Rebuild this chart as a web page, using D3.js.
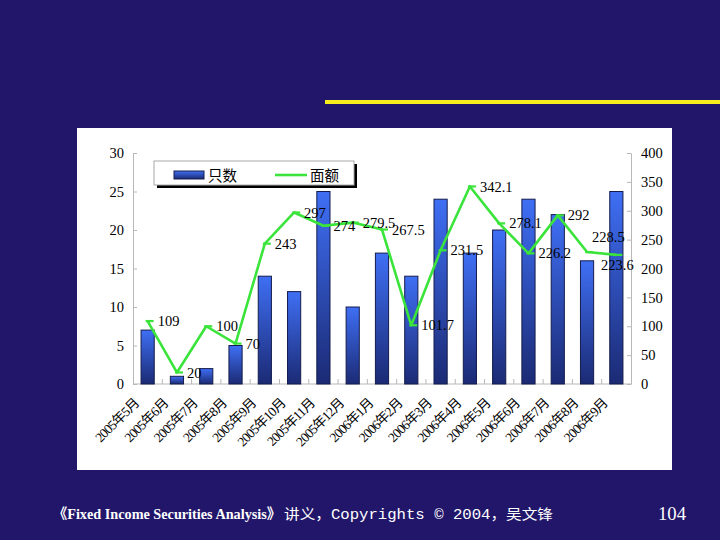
<!DOCTYPE html>
<html><head><meta charset="utf-8">
<script src="https://cdn.jsdelivr.net/npm/d3@7"></script>
<style>html,body{margin:0;padding:0;background:#22166a;} svg{display:block}</style>
</head><body>
<svg id="c" width="720" height="540"></svg>
<script>
const categories = ["2005年5月","2005年6月","2005年7月","2005年8月","2005年9月","2005年10月","2005年11月","2005年12月","2006年1月","2006年2月","2006年3月","2006年4月","2006年5月","2006年6月","2006年7月","2006年8月","2006年9月"];
const counts = [7,1,2,5,14,12,25,10,17,14,24,17,20,24,22,16,25];
const amounts = [109,20,100,70,243,297,274,279.5,267.5,101.7,231.5,342.1,278.1,226.2,292,228.5,223.6];
const leftTicks = [0,5,10,15,20,25,30];
const rightTicks = [0,50,100,150,200,250,300,350,400];
const seriesNames = ["只数","面额"];
// label placement keyword per point (default: right of point)
const labelPlacement = amounts.map((d,i)=> i===15 ? "aboveRight" : i===16 ? "below" : "right");

const svg = d3.select("#c");
const serif = "'Liberation Serif','Times New Roman','Noto Sans CJK SC',serif";

// background
svg.append("rect").attr("width",720).attr("height",540).attr("fill","#22166a");
// yellow rule
svg.append("rect").attr("x",325).attr("y",100).attr("width",395).attr("height",4).attr("fill","#f7ec1c");
// white panel
svg.append("rect").attr("x",77).attr("y",128).attr("width",595).attr("height",342).attr("fill","#ffffff");

const defs = svg.append("defs");
const g = defs.append("linearGradient").attr("id","barGrad").attr("x1",0).attr("y1",0).attr("x2",0).attr("y2",1);
g.append("stop").attr("offset","0%").attr("stop-color","#3f6ff4");
g.append("stop").attr("offset","100%").attr("stop-color","#1b2a74");

const x = d3.scaleBand().domain(categories).range([133,631]).padding(0);
const yL = d3.scaleLinear().domain([0,30]).range([384,153]);
const yR = d3.scaleLinear().domain([0,400]).range([384,153]);

const axisColor = "#b8b8b8";
// left axis
const la = svg.append("g").attr("transform","translate(133,0)")
  .call(d3.axisLeft(yL).tickValues(leftTicks).tickSizeInner(-4).tickSizeOuter(0).tickPadding(9));
la.select(".domain").attr("stroke",axisColor);
la.selectAll(".tick line").attr("stroke",axisColor);
la.selectAll(".tick text").attr("font-family",serif).attr("font-size","14.5px").attr("fill","#000");

// right axis
const ra = svg.append("g").attr("transform","translate(631,0)")
  .call(d3.axisRight(yR).tickValues(rightTicks).tickSizeInner(-4).tickSizeOuter(0).tickPadding(10));
ra.select(".domain").attr("stroke",axisColor);
ra.selectAll(".tick line").attr("stroke",axisColor);
ra.selectAll(".tick text").attr("font-family",serif).attr("font-size","14.5px").attr("fill","#000");

// bottom axis line + boundary ticks
svg.append("line").attr("x1",133).attr("x2",631).attr("y1",384).attr("y2",384).attr("stroke",axisColor);
svg.append("g").selectAll("line").data(categories.slice(1)).join("line")
  .attr("x1",d=>x(d)).attr("x2",d=>x(d)).attr("y1",384).attr("y2",379).attr("stroke",axisColor);

// bars
const bw = x.bandwidth()*0.45;
svg.append("g").selectAll("rect").data(counts).join("rect")
  .attr("x",(d,i)=>x(categories[i])+x.bandwidth()/2-bw/2)
  .attr("y",d=>yL(d))
  .attr("width",bw)
  .attr("height",d=>384-yL(d))
  .attr("fill","url(#barGrad)")
  .attr("stroke","#141c4c").attr("stroke-width",1);

// line
const cx = i => x(categories[i])+x.bandwidth()/2;
const green = "#3ae43a";
svg.append("path").datum(amounts)
  .attr("d",d3.line().x((d,i)=>cx(i)).y(d=>yR(d)))
  .attr("fill","none").attr("stroke",green).attr("stroke-width",2.6).attr("stroke-linejoin","round");
svg.append("g").selectAll("line").data(amounts).join("line")
  .attr("x1",(d,i)=>cx(i)-2).attr("x2",(d,i)=>cx(i)+6)
  .attr("y1",d=>yR(d)).attr("y2",d=>yR(d))
  .attr("stroke",green).attr("stroke-width",2.2);

// data labels
svg.append("g").selectAll("text").data(amounts).join("text")
  .attr("x",(d,i)=> labelPlacement[i]==="below" ? cx(i)+1 : labelPlacement[i]==="aboveRight" ? cx(i)+5 : cx(i)+10)
  .attr("y",(d,i)=> labelPlacement[i]==="below" ? yR(d)+10 : labelPlacement[i]==="aboveRight" ? yR(d)-15 : yR(d))
  .attr("dy","0.35em")
  .attr("text-anchor",(d,i)=> labelPlacement[i]==="below" ? "middle" : "start")
  .attr("font-family",serif).attr("font-size","14.5px").attr("fill","#000")
  .text(d=>String(d));

// x labels
svg.append("g").selectAll("text").data(categories).join("text")
  .attr("transform",d=>`translate(${x(d)+x.bandwidth()/2-8},${404}) rotate(-45)`)
  .attr("text-anchor","end")
  .attr("font-family",serif).attr("font-size","13.5px").attr("fill","#000")
  .attr("letter-spacing","-0.8px")
  .text(d=>d);

// legend
svg.append("rect").attr("x",157).attr("y",164).attr("width",200).attr("height",24).attr("fill","#000");
svg.append("rect").attr("x",154).attr("y",161).attr("width",200).attr("height",24).attr("fill","#fff").attr("stroke","#a8a8a8").attr("stroke-width",1);
svg.append("rect").attr("x",174).attr("y",171).attr("width",30).attr("height",8).attr("fill","url(#barGrad)").attr("stroke","#141c4c");
svg.append("text").attr("x",208).attr("y",175).attr("dy","0.38em").attr("font-family",serif).attr("font-size","14.5px").text(seriesNames[0]);
svg.append("line").attr("x1",275).attr("x2",307).attr("y1",175).attr("y2",175).attr("stroke",green).attr("stroke-width",2.6);
svg.append("text").attr("x",310).attr("y",175).attr("dy","0.38em").attr("font-family",serif).attr("font-size","14.5px").text(seriesNames[1]);

// footer
svg.append("text").attr("x",53).attr("y",519).attr("fill","#fff").attr("font-size","14.5px")
  .attr("font-family",serif).attr("font-weight","bold")
  .attr("textLength",228).attr("lengthAdjust","spacingAndGlyphs")
  .text("《Fixed Income Securities Analysis》");
svg.append("text").attr("x",284).attr("y",519).attr("fill","#fff").attr("font-size","14px")
  .attr("font-family","'Liberation Mono','DejaVu Sans Mono','Noto Sans CJK SC',monospace")
  .attr("textLength",269).attr("lengthAdjust","spacingAndGlyphs")
  .text("讲义，Copyrights © 2004，吴文锋");
svg.append("text").attr("x",686).attr("y",520).attr("text-anchor","end").attr("fill","#fff")
  .attr("font-family",serif).attr("font-size","18px").attr("textLength",28).attr("lengthAdjust","spacingAndGlyphs").text("104");
</script>
</body></html>
